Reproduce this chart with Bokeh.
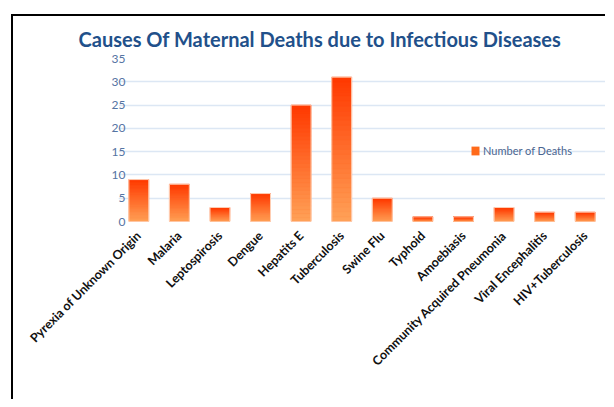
from math import pi
from bokeh.plotting import figure
from bokeh.layouts import column
from bokeh.models import ColumnDataSource, Legend, LegendItem, FixedTicker
from bokeh.embed import file_html
from bokeh.resources import INLINE

categories = ["Pyrexia of Unknown Origin", "Malaria", "Leptospirosis", "Dengue",
              "Hepatits E", "Tuberculosis", "Swine Flu", "Typhoid", "Amoebiasis",
              "Community Acquired Pneumonia", "Viral Encephalitis", "HIV+Tuberculosis"]
deaths = [9, 8, 3, 6, 25, 31, 5, 1, 1, 3, 2, 2]
y_ticks = [0, 5, 10, 15, 20, 25, 30, 35]
title_text = "Causes Of Maternal Deaths due to Infectious Diseases"
series_name = "Number of Deaths"

BAR_W = 0.49
N_SEG = 30
bottom_rgb = (255, 162, 88)
top_rgb = (255, 56, 0)


def mix(t):
    return "#%02x%02x%02x" % tuple(int(round(b + (tp - b) * t)) for b, tp in zip(bottom_rgb, top_rgb))


seg = dict(x=[], bottom=[], top=[], color=[])
for c, v in zip(categories, deaths):
    for j in range(N_SEG):
        seg["x"].append(c)
        seg["bottom"].append(v * j / N_SEG)
        seg["top"].append(v * (j + 1) / N_SEG)
        seg["color"].append(mix((j + 0.5) / N_SEG))

p = figure(x_range=categories, y_range=(0, 35), width=592, height=383,
           output_backend="svg", toolbar_location=None,
           min_border_left=105, min_border_right=0, min_border_top=38, min_border_bottom=178)

p.title.text = title_text
p.title.align = "left"
p.title.text_font = "Lato"
p.title.text_font_size = "20px"
p.title.text_font_style = "bold"
p.title.text_color = "#21508a"
p.title.offset = -40
p.title.standoff = 16

base = p.vbar(x=categories, top=deaths, width=BAR_W, fill_color="#ff6a1a", line_color=None)
p.vbar(x="x", bottom="bottom", top="top", width=BAR_W, source=ColumnDataSource(seg),
       fill_color="color", line_color="color", line_width=0.6)
p.vbar(x=categories, top=deaths, width=BAR_W, fill_color=None,
       line_color="#ffcfb5", line_width=1)

legend = Legend(items=[LegendItem(label=series_name, renderers=[base])],
                location=(352, 64), orientation="vertical")
legend.border_line_color = None
legend.background_fill_alpha = 0
legend.glyph_width = 10
legend.glyph_height = 11
legend.padding = 0
legend.margin = 0
legend.label_text_font = "Lato"
legend.label_text_font_size = "11px"
legend.label_text_color = "#4a6590"
legend.label_standoff = 3
p.add_layout(legend, "center")

p.outline_line_color = None
p.xgrid.grid_line_color = None
p.ygrid.grid_line_color = "#dce7f4"
p.ygrid.grid_line_width = 1.5
p.yaxis.ticker = FixedTicker(ticks=y_ticks)
p.yaxis.axis_line_color = None
p.yaxis.major_tick_line_color = None
p.yaxis.minor_tick_line_color = None
p.yaxis.major_tick_out = 0
p.yaxis.major_tick_in = 0
p.yaxis.minor_tick_out = 0
p.yaxis.major_label_text_font = "Lato"
p.yaxis.major_label_text_font_size = "12px"
p.yaxis.major_label_text_color = "#5574a3"
p.yaxis.major_label_standoff = -7

p.xaxis.axis_line_color = None
p.xaxis.major_tick_line_color = None
p.xaxis.major_label_orientation = pi / 4
p.xaxis.major_label_text_font = "Lato"
p.xaxis.major_label_text_font_size = "12.5px"
p.xaxis.major_label_text_font_style = "bold"
p.xaxis.major_label_text_color = "#111111"
p.xaxis.major_label_standoff = 6

lay = column(p, styles={"border-top": "2px solid black", "border-left": "2px solid black",
                        "margin-top": "14px", "margin-left": "11px"})
open("out.html", "w").write(file_html(lay, INLINE))
